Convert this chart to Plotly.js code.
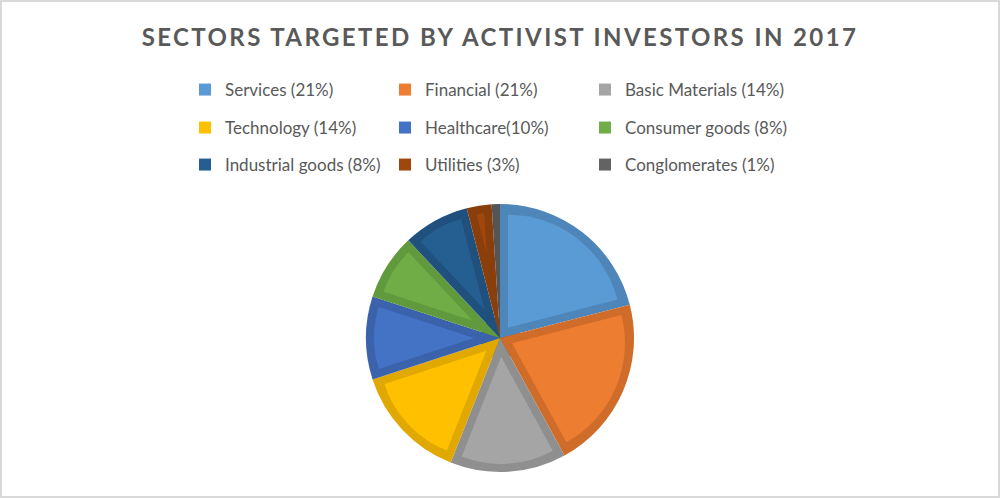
<!DOCTYPE html>
<html><head><meta charset="utf-8">
<script src="https://cdn.plot.ly/plotly-3.0.1.min.js"></script>
<style>html,body{margin:0;padding:0;background:#fff}#chart{width:1000px;height:498px}
#chart .gtitle{letter-spacing:2.4px}</style>
</head><body><div id="chart"></div>
<script>
// ---- data ----
const categories = ['Services (21%)', 'Financial (21%)', 'Basic Materials (14%)', 'Technology (14%)', 'Healthcare(10%)', 'Consumer goods (8%)', 'Industrial goods (8%)', 'Utilities (3%)', 'Conglomerates (1%)'];
const values = [21, 21, 14, 14, 10, 8, 8, 3, 1];
const fillColors = ['#5B9BD5', '#ED7D31', '#A5A5A5', '#FFC000', '#4472C4', '#70AD47', '#255E91', '#9E480E', '#636363'];
const edgeColors = ['#4E86BA', '#D06C2A', '#8F8F8F', '#E0A800', '#3B63AC', '#619A3D', '#1F507E', '#893E0C', '#555555'];
const titleText = 'SECTORS TARGETED BY ACTIVIST INVESTORS IN 2017';

// ---- layout constants ----
const W = 1000, H = 498, CX = 500, CY = 338, R = 134, EDGE = 8;
function dom(r) { return {x: [(CX - r) / W, (CX + r) / W], y: [(H - CY - r) / H, (H - CY + r) / H]}; }
const total = values.reduce((a, b) => a + b, 0);
const legendColX = [185, 385, 585];
const legendRowY = [90, 128, 165];
const traces = [];
const legendFont = {family: 'Lato, sans-serif', size: 17, color: '#595959'};
const layout = {
  width: W, height: H,
  margin: {l: 0, r: 0, t: 0, b: 0},
  paper_bgcolor: '#ffffff',
  title: {text: titleText, font: {family: 'Lato, sans-serif', size: 24, color: '#595959', weight: 700},
          x: 0.5, xanchor: 'center', xref: 'paper', y: 1 - 38 / H, yanchor: 'middle', yref: 'container'},
  shapes: [{type: 'rect', xref: 'paper', yref: 'paper', x0: 0, x1: 1, y0: 0, y1: 1, line: {color: '#D9D9D9', width: 4}}]
};

// one legend per entry, drawn from small pies hidden under the main pie
categories.forEach((c, i) => {
  const name = i === 0 ? 'legend' : 'legend' + (i + 1);
  traces.push({
    type: 'pie', labels: [c], values: [values[i]],
    marker: {colors: [fillColors[i]], line: {width: 0}},
    sort: false, textinfo: 'none', hoverinfo: 'skip',
    domain: dom(20), legend: name, showlegend: true
  });
  layout[name] = {orientation: 'h', x: legendColX[i % 3] / W, xanchor: 'left',
    y: 1 - legendRowY[Math.floor(i / 3)] / H, yanchor: 'middle', itemwidth: 30, font: legendFont,
    bgcolor: 'rgba(0,0,0,0)', itemclick: false, itemdoubleclick: false};
});

// base pie in the darker edge colours
traces.push({
  type: 'pie', labels: categories, values: values,
  marker: {colors: edgeColors, line: {width: 0}},
  sort: false, direction: 'clockwise', textinfo: 'none', hoverinfo: 'skip',
  domain: dom(R), showlegend: false
});

// inset lighter fill for each slice
const Rin = R - EDGE;
values.forEach((v, i) => {
  const half = Math.PI * v / total;
  const d = EDGE / Math.sin(half);
  if (d >= Rin * 0.8) return;
  const p = d / (Rin - d);
  traces.push({
    type: 'pie', labels: categories, values: values,
    marker: {colors: categories.map((c, j) => j === i ? fillColors[i] : 'rgba(0,0,0,0)'), line: {width: 0}},
    pull: categories.map((c, j) => j === i ? p : 0),
    sort: false, direction: 'clockwise', textinfo: 'none', hoverinfo: 'skip',
    domain: dom(Rin), showlegend: false
  });
});

Plotly.newPlot('chart', traces, layout, {displayModeBar: false, staticPlot: true});
</script>
</body></html>
